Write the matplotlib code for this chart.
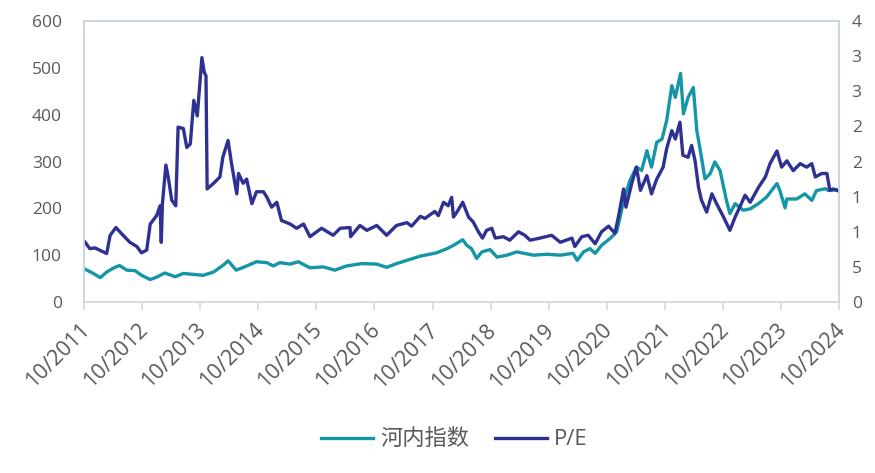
import matplotlib
matplotlib.use("Agg")
import matplotlib.pyplot as plt
import matplotlib.transforms as mtransforms
from matplotlib.ticker import FixedLocator, FuncFormatter

plt.rcParams['font.family'] = ['Open Sans', 'Noto Sans CJK SC', 'DejaVu Sans']

# dates as decimal years
hnx_t = [2011.77, 2011.91, 2012.03, 2012.14, 2012.25, 2012.36, 2012.49, 2012.63, 2012.74, 2012.89,
         2013.00, 2013.14, 2013.32, 2013.46, 2013.63, 2013.80, 2013.98, 2014.15, 2014.23, 2014.37,
         2014.55, 2014.72, 2014.90, 2015.01, 2015.12, 2015.30, 2015.44, 2015.64, 2015.87, 2016.07,
         2016.27, 2016.53, 2016.79, 2016.96, 2017.13, 2017.36, 2017.54, 2017.82, 2018.00, 2018.11,
         2018.27, 2018.34, 2018.42, 2018.51, 2018.60, 2018.74, 2018.86, 2019.03, 2019.20, 2019.49,
         2019.72, 2019.95, 2020.17, 2020.24, 2020.35, 2020.46, 2020.55, 2020.66, 2020.81, 2020.92,
         2020.98, 2021.04, 2021.15, 2021.26, 2021.35, 2021.44, 2021.52, 2021.61, 2021.70, 2021.78,
         2021.87, 2021.93, 2022.02, 2022.07, 2022.15, 2022.24, 2022.30, 2022.33, 2022.38, 2022.44,
         2022.53, 2022.61, 2022.70, 2022.81, 2022.87, 2022.96, 2023.10, 2023.22, 2023.36, 2023.50,
         2023.68, 2023.73, 2023.82, 2023.85, 2024.02, 2024.16, 2024.28, 2024.36, 2024.51, 2024.57,
         2024.73]
hnx = [70, 61, 52, 64, 72, 78, 68, 67, 57, 48,
       53, 62, 54, 61, 59, 57, 64, 79, 88, 68,
       77, 86, 84, 77, 84, 81, 86, 73, 75, 68,
       77, 82, 81, 74, 82, 91, 98, 105, 114, 121,
       133, 121, 114, 93, 107, 112, 96, 100, 107, 100,
       102, 100, 104, 89, 107, 114, 104, 121, 136, 150,
       182, 217, 260, 288, 281, 323, 288, 341, 348, 387,
       462, 437, 488, 402, 437, 458, 366, 345, 309, 263,
       274, 299, 281, 217, 189, 210, 196, 199, 210, 224,
       253, 238, 201, 220, 220, 231, 217, 238, 242, 238,
       240]

pe_t = [2011.77, 2011.85, 2011.94, 2012.14, 2012.20, 2012.30, 2012.40, 2012.54, 2012.66, 2012.74,
        2012.83, 2012.89, 2013.00, 2013.06, 2013.08, 2013.10, 2013.16, 2013.20, 2013.26, 2013.33,
        2013.37, 2013.46, 2013.52, 2013.58, 2013.64, 2013.70, 2013.78, 2013.82, 2013.85, 2013.87,
        2013.98, 2014.09, 2014.14, 2014.23, 2014.29, 2014.38, 2014.41, 2014.49, 2014.55, 2014.64,
        2014.72, 2014.84, 2014.90, 2014.98, 2015.07, 2015.15, 2015.30, 2015.41, 2015.53, 2015.64,
        2015.84, 2016.04, 2016.16, 2016.33, 2016.34, 2016.50, 2016.62, 2016.79, 2016.96, 2017.13,
        2017.31, 2017.39, 2017.54, 2017.62, 2017.79, 2017.85, 2017.94, 2018.02, 2018.08, 2018.11,
        2018.17, 2018.27, 2018.37, 2018.45, 2018.54, 2018.61, 2018.68, 2018.77, 2018.83, 2018.97,
        2019.08, 2019.23, 2019.34, 2019.43, 2019.60, 2019.80, 2019.95, 2020.15, 2020.20, 2020.32,
        2020.43, 2020.55, 2020.66, 2020.78, 2020.89, 2020.95, 2021.04, 2021.08, 2021.18, 2021.26,
        2021.33, 2021.44, 2021.52, 2021.61, 2021.72, 2021.78, 2021.87, 2021.93, 2022.01, 2022.06,
        2022.15, 2022.21, 2022.27, 2022.33, 2022.38, 2022.47, 2022.56, 2022.64, 2022.76, 2022.87,
        2022.96, 2023.05, 2023.13, 2023.22, 2023.36, 2023.48, 2023.56, 2023.68, 2023.76, 2023.85,
        2023.96, 2024.08, 2024.19, 2024.28, 2024.34, 2024.45, 2024.54, 2024.59, 2024.65, 2024.77]
pe = [8.5, 7.6, 7.7, 6.9, 9.5, 10.6, 9.7, 8.5, 7.9, 7.0,
      7.4, 11.1, 12.3, 13.7, 8.5, 14.0, 19.5, 17.8, 14.5, 13.7,
      24.9, 24.7, 22.0, 22.5, 28.7, 26.5, 34.8, 32.7, 32.2, 16.1,
      16.9, 17.8, 20.6, 23.0, 19.7, 15.4, 18.3, 16.9, 17.5, 14.0,
      15.7, 15.7, 14.9, 13.5, 14.2, 11.6, 11.1, 10.5, 11.1, 9.3,
      10.5, 9.5, 10.5, 10.6, 9.3, 10.9, 10.2, 10.9, 9.5, 10.9,
      11.3, 10.8, 12.2, 11.9, 12.9, 12.3, 14.2, 13.7, 14.9, 12.1,
      12.8, 14.2, 12.1, 11.4, 10.0, 9.1, 10.2, 10.5, 9.1, 9.3,
      8.8, 10.0, 9.5, 8.8, 9.1, 9.5, 8.5, 9.1, 7.9, 9.3,
      9.5, 8.3, 10.0, 10.8, 9.8, 12.1, 16.1, 13.5, 16.9, 19.2,
      15.9, 18.0, 15.4, 17.5, 19.2, 21.8, 24.4, 23.2, 25.6, 20.9,
      20.6, 22.3, 20.1, 16.3, 14.5, 12.8, 15.4, 14.0, 12.1, 10.2,
      12.1, 13.7, 15.2, 14.2, 16.3, 17.8, 19.7, 21.5, 19.2, 20.1,
      18.7, 19.7, 19.2, 19.7, 17.8, 18.3, 18.3, 15.9, 16.1, 15.7]

years = list(range(2011, 2025))
xlabels = [f"10/{y}" for y in years]
left_ticks = [0, 100, 200, 300, 400, 500, 600]
right_ticks = [0, 5, 10, 15, 20, 25, 30, 35, 40]

teal = '#1496a6'
navy = '#2e3192'
txt = '#595959'

fig = plt.figure(figsize=(8.75, 4.73), dpi=100)
ax = fig.add_axes([0.096, 0.3615, 0.863, 0.594])
ax2 = ax.twinx()

ax.plot(hnx_t, hnx, color=teal, lw=2.4, label='河内指数', solid_joinstyle='round')
ax2.plot(pe_t, pe, color=navy, lw=2.4, label='P/E', solid_joinstyle='round')

xt = [y + 0.75 for y in years]
ax.set_xlim(xt[0], xt[-1])
ax.set_ylim(0, 600)
ax2.set_ylim(0, 40)
ax.set_xticks(xt)
ax.set_xticklabels(xlabels, rotation=45, ha='right', rotation_mode='anchor')
ax.yaxis.set_major_locator(FixedLocator(left_ticks))
ax2.yaxis.set_major_locator(FixedLocator(right_ticks))
# right-hand labels only show their first digit in the source image
ax2.yaxis.set_major_formatter(FuncFormatter(lambda v, p: f"{v:.0f}"[0]))

for a in (ax, ax2):
    for s in a.spines.values():
        s.set_color('#c8d6e2')
        s.set_linewidth(1.2)
    a.spines['bottom'].set_color('#d9d9d9')
    a.tick_params(axis='y', length=0, labelsize=12.5, colors=txt)
ax.tick_params(axis='y', pad=16)
ax2.tick_params(axis='y', pad=9)
ax.tick_params(axis='x', length=6, width=1.2, color='#d9d9d9', labelsize=15.5,
               labelcolor=txt, pad=3)

# nudge the rotated date labels a little left/down
shift = mtransforms.ScaledTranslation(-5 / 100, -5 / 100, fig.dpi_scale_trans)
for lbl in ax.get_xticklabels():
    lbl.set_transform(lbl.get_transform() + shift)

h1, l1 = ax.get_legend_handles_labels()
h2, l2 = ax2.get_legend_handles_labels()
fig.legend(h1 + h2, l1 + l2, loc='center', bbox_to_anchor=(0.519, 0.07), ncol=2,
           frameon=False, fontsize=16, labelcolor=txt, handlelength=2.35,
           handletextpad=0.3, columnspacing=1.15)

fig.savefig('out.png', dpi=100)
